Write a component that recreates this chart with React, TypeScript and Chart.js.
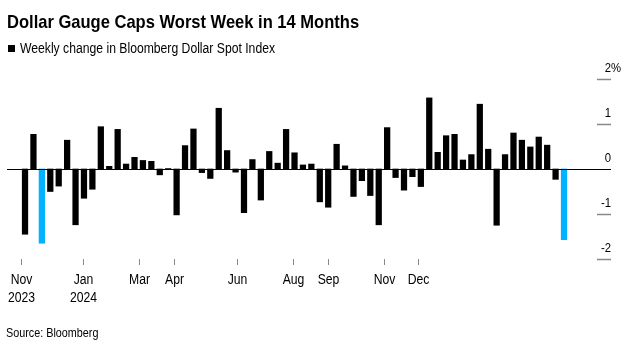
import React, { useEffect, useRef } from "react";
import { Chart, registerables } from "chart.js";

Chart.register(...registerables);

// Weekly change in Bloomberg Dollar Spot Index (%), Nov 2023 – Jan 2025
const weeklyChange: number[] = [
  -1.45, 0.77, -1.65, -0.5, -0.38, 0.64, -1.24, -0.65, -0.45, 0.94,
  0.06, 0.88, 0.11, 0.26, 0.19, 0.17, -0.13, 0.01, -1.02, 0.52,
  0.89, -0.08, -0.21, 1.35, 0.41, -0.07, -0.97, 0.21, -0.69, 0.39,
  0.13, 0.88, 0.36, 0.09, 0.11, -0.73, -0.85, 0.55, 0.07, -0.61,
  -0.26, -0.59, -1.24, 0.92, -0.19, -0.47, -0.17, -0.39, 1.58, 0.37,
  0.74, 0.77, 0.2, 0.32, 1.44, 0.44, -1.25, 0.32, 0.8, 0.64,
  0.49, 0.71, 0.53, -0.23, -1.57,
];
// weeks highlighted in blue (worst weeks)
const highlightWeeks: number[] = [2, 64];

// month tick labels and the week index they sit at
const monthLabels: string[][] = [
  ["Nov", "2023"], ["Jan", "2024"], ["Mar"], ["Apr"], ["Jun"], ["Aug"], ["Sep"], ["Nov"], ["Dec"],
];
const monthTickAt: number[] = [-0.51, 6.92, 13.54, 17.73, 25.14, 31.79, 35.98, 42.64, 46.71];

const yTicks: number[] = [2, 1, 0, -1, -2];

const FONT = '"Liberation Sans", Arial, sans-serif';
const SQUEEZE = 0.87;

function squeezedText(ctx: CanvasRenderingContext2D, s: string, x: number, y: number) {
  ctx.save();
  ctx.translate(x, y);
  ctx.scale(SQUEEZE, 1);
  ctx.fillText(s, 0, 0);
  ctx.restore();
}

export default function App() {
  const ref = useRef<HTMLCanvasElement>(null);

  useEffect(() => {
    const c = ref.current!;

    const axisPlugin = {
      id: "bbgAxes",
      beforeDatasetsDraw(chart: any) {
        const { ctx, chartArea } = chart;
        const xs = chart.scales.x;
        const ys = chart.scales.y;
        ctx.save();
        ctx.font = `13px ${FONT}`;
        ctx.fillStyle = "#000";
        ctx.textBaseline = "alphabetic";
        yTicks.forEach((v) => {
          const y = Math.round(ys.getPixelForValue(v)) + 0.5;
          if (v !== 0) {
            ctx.strokeStyle = "#888";
            ctx.lineWidth = 1.5;
            ctx.beginPath();
            ctx.moveTo(chartArea.right - 14, y);
            ctx.lineTo(chartArea.right, y);
            ctx.stroke();
          }
          ctx.textAlign = "right";
          squeezedText(ctx, String(v), chartArea.right, y - 8);
          if (v === 2) {
            ctx.textAlign = "left";
            squeezedText(ctx, "%", chartArea.right, y - 8);
          }
        });
        ctx.textAlign = "center";
        ctx.font = `14px ${FONT}`;
        monthTickAt.forEach((t, i) => {
          const x = Math.round(xs.getPixelForValue(t)) + 0.5;
          ctx.strokeStyle = "#888";
          ctx.lineWidth = 1;
          ctx.beginPath();
          ctx.moveTo(x, chartArea.bottom);
          ctx.lineTo(x, chartArea.bottom + 6);
          ctx.stroke();
          monthLabels[i].forEach((s, j) => {
            squeezedText(ctx, s, x, chartArea.bottom + 25 + j * 18);
          });
        });
        ctx.restore();
      },
      afterDatasetsDraw(chart: any) {
        const { ctx, chartArea } = chart;
        const ys = chart.scales.y;
        const y = Math.round(ys.getPixelForValue(0)) + 0.5;
        ctx.save();
        ctx.strokeStyle = "#000";
        ctx.lineWidth = 1;
        ctx.beginPath();
        ctx.moveTo(chartArea.left, y);
        ctx.lineTo(chartArea.right, y);
        ctx.stroke();
        ctx.restore();
      },
    };

    const chart = new Chart(c, {
      type: "bar",
      data: {
        datasets: [
          {
            data: weeklyChange.map((v, i) => ({ x: i, y: v })),
            backgroundColor: weeklyChange.map((_, i) =>
              highlightWeeks.includes(i) ? "#00b2ff" : "#000000"
            ),
            barThickness: 5.6,
            borderWidth: 0,
          },
        ],
      },
      options: {
        animation: false,
        responsive: false,
        maintainAspectRatio: false,
        layout: { padding: { left: 7, right: 20, top: 79, bottom: 95 } },
        plugins: { legend: { display: false }, tooltip: { enabled: false } },
        scales: {
          x: { type: "linear", min: -2.14, max: 69.58, offset: false, display: false },
          y: { type: "linear", min: -2, max: 2, display: false },
        },
      },
      plugins: [axisPlugin],
    });
    return () => chart.destroy();
  }, []);

  const squeeze = { transform: `scaleX(${SQUEEZE})`, transformOrigin: "0 0" };

  return (
    <div style={{ position: "absolute", left: 0, top: 0, width: 631, height: 354, background: "#fff" }}>
      <canvas ref={ref} width={631} height={354} style={{ position: "absolute", left: 0, top: 0, width: 631, height: 354 }} />
      <div
        style={{
          position: "absolute", left: 7, top: 10, fontFamily: FONT, fontWeight: 700,
          fontSize: 19, lineHeight: "24px", color: "#000", whiteSpace: "nowrap", ...squeeze,
        }}
      >
        Dollar Gauge Caps Worst Week in 14 Months
      </div>
      <div
        style={{
          position: "absolute", left: 8, top: 39, fontFamily: FONT,
          fontSize: 14, lineHeight: "18px", color: "#000", whiteSpace: "nowrap", display: "flex", alignItems: "center",
        }}
      >
        <span style={{ display: "inline-block", width: 7, height: 7, background: "#000", marginRight: 5 }} />
        <span style={{ display: "inline-block", ...squeeze }}>Weekly change in Bloomberg Dollar Spot Index</span>
      </div>
      <div
        style={{
          position: "absolute", left: 6, top: 325, fontFamily: FONT,
          fontSize: 12, lineHeight: "16px", color: "#000", whiteSpace: "nowrap", ...{ transform: "scaleX(0.9)", transformOrigin: "0 0" },
        }}
      >
        Source: Bloomberg
      </div>
    </div>
  );
}
